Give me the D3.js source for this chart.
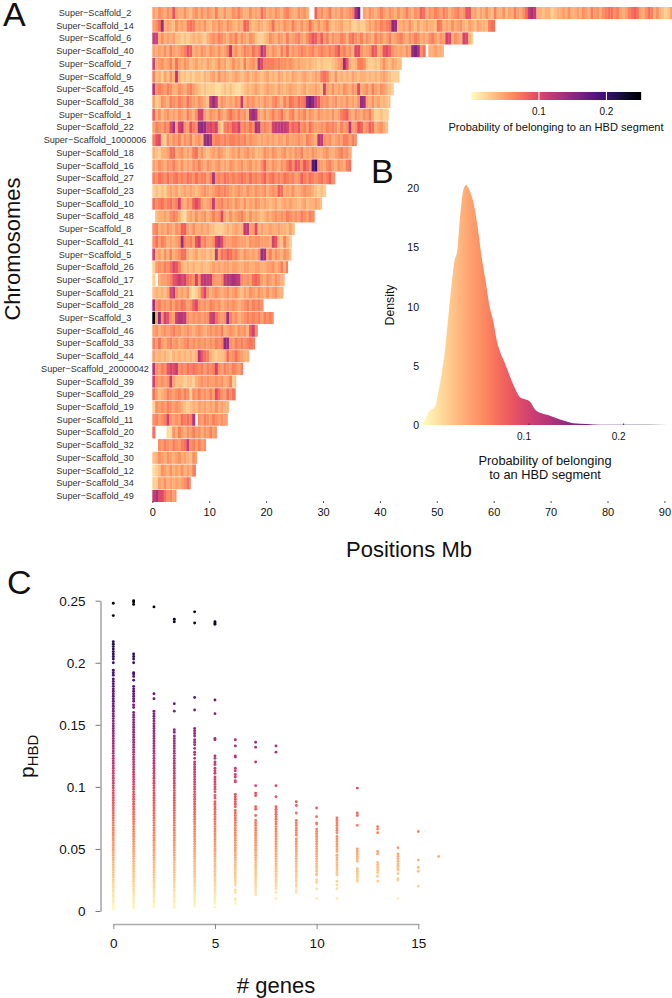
<!DOCTYPE html>
<html lang="en">

<head>
  <meta charset="UTF-8">
  <title>HBD probability along the genome</title>
  <script src="https://d3js.org/d3.v7.min.js"></script>
  <style>
    body {
      margin: 0;
      background: #fff;
      font-family: "Liberation Sans", Arial, sans-serif;
    }

    svg {
      display: block;
    }

    text {
      fill: #111;
    }
  </style>
</head>

<body>
  <svg id="chart" width="672" height="998"></svg>

  <script>
    // Panel A: scaffold names and lengths in Mb
    const scaffolds = ["2", "14", "6", "40", "7", "9", "45", "38", "1", "22", "1000006", "18", "16", "27", "23", "10", "48",
      "8", "41", "5", "26", "17", "21", "28", "3", "46", "33", "44", "20000042", "39", "29", "19", "11", "20", "32", "30",
      "12", "34", "49"];
    const scaffoldLengths = [91.5, 60.2, 56.3, 51.2, 43.8, 43.4, 42.4, 41.8, 41.5, 41.4, 35.9, 35, 34.9, 32.1, 30.6, 29.8, 28.5,
      25, 24.5, 24.4, 23.8, 23.2, 23, 19.5, 21.3, 18.5, 18, 17.2, 15.9, 14.7, 14.6, 13.4, 13.2, 11.3, 9.4, 7.8, 7.6, 6.7, 4.2];

    // pHBD read along each scaffold, in 1/120ths, one value per 0.5 Mb, null = no data
    const s2 = [6,5,7,6,5,7,6,11,6,5,5,7,5,4,6,7,5,7,5,7,6,5,8,5,5,7,5,5,7,6,8,6,5,5,7,5,6,5,9,7,5,6,5,7,6,5,7,8,6,5,5,7,6,7,5,null,null,10,6,7,5,6,8,5,6,5,7,5,6,7,8,16,20,null,6,5,7,6,5,6,8,6,5,7,6,5,7,5,6,8,6,5,7,6,10,9,5,7,6,8,7,6,8,7,5,6,7,8,6,7,11,11,5,6,4,6,5,7,5,4,8,5,5,7,4,6,5,8,6,5,7,9,14,16,14,5,5,4,5,5,3,4,5,5,6,5,7,5,5,6,5,7,6,5,8,6,7,5,7,8,9,9,7,8,6,5,6,8,9,10,9,6,5,7,9,8,5,7,5,4,3,4,6];
    const s14 = [6,7,9,17,5,6,5,4,7,5,6,5,8,9,8,5,6,5,7,5,4,6,5,7,6,5,7,6,5,4,6,5,10,9,5,4,5,6,5,4,5,6,9,5,6,5,7,6,5,8,6,5,7,5,6,9,6,5,7,5,6,8,5,4,5,5,6,4,4,5,3,3,4,3,3,5,6,5,7,6,8,7,8,9,18,17,5,5,6,5,7,5,4,6,4,5,6,5,5,4,9,8,5,6,5,7,5,6,7,5,4,6,5,4,6,5,5,4,8,9,9];
    const s6 = [14,13,5,7,5,6,5,6,4,4,3,4,3,4,5,4,5,4,3,5,6,7,6,8,7,6,5,7,6,8,5,7,6,5,7,6,4,3,3,4,5,7,6,5,7,6,5,8,5,6,7,8,6,5,7,9,11,10,7,10,6,8,5,7,6,6,8,7,5,8,9,7,6,8,5,7,6,5,8,6,7,5,6,8,5,6,7,8,6,5,7,6,8,7,5,6,5,7,8,6,5,7,6,13,12,5,7,6,5,13,12,5,3];
    const s40 = [6,5,6,5,7,5,8,6,5,6,7,8,11,10,5,6,5,7,6,5,7,6,5,7,5,6,8,15,6,7,5,6,8,7,6,9,7,8,15,12,6,5,7,6,5,8,6,9,5,7,6,7,8,7,6,7,8,6,7,8,7,6,8,7,9,11,7,8,6,7,5,12,12,7,5,6,7,11,10,5,6,11,12,10,7,6,5,6,5,7,6,17,19,16,7,9,null,5,5,6,5,5,5];
    const s7 = [13,5,6,7,5,6,8,5,9,6,5,7,6,4,5,6,4,5,4,6,5,4,5,7,5,6,4,5,7,5,6,4,8,5,6,7,5,15,12,8,8,8,8,7,8,7,7,6,7,6,5,6,5,5,4,5,4,4,3,4,3,3,3,4,5,6,7,17,11,5,4,5,8,8,7,4,3,3,4,3,5,7,5,4,6,5,4,4];
    const s9 = [8,4,5,3,6,4,7,5,15,5,3,4,3,4,3,4,4,3,5,4,5,6,4,7,5,6,5,4,5,6,5,4,5,6,4,5,6,5,4,5,6,4,5,4,6,5,4,5,4,6,5,4,5,6,5,4,5,6,5,8,9,8,5,4,7,4,5,4,5,4,6,5,4,5,5,4,5,4,5,4,5,6,5,4,3,3,3];
    const s45 = [15,7,8,7,6,8,7,5,5,7,6,5,7,8,6,5,4,3,4,3,3,3,2,2,3,4,3,4,3,2,2,3,4,5,4,5,6,5,4,5,6,5,5,4,6,5,4,5,6,5,5,4,5,6,4,5,5,6,5,4,13,6,5,7,5,6,5,7,6,5,7,6,12,5,6,7,5,8,6,5,7,6,5,4,3];
    const s38 = [6,3,4,7,6,5,8,7,6,8,7,6,9,7,6,5,7,6,5,4,14,17,14,5,7,6,5,6,5,7,6,14,5,7,6,7,5,6,5,7,6,5,7,8,6,5,8,6,9,8,7,9,8,9,18,20,18,13,11,7,6,7,5,6,7,5,6,5,7,5,6,5,7,17,16,6,5,7,5,6,4,5,4,4];
    const s1 = [10,5,7,4,6,7,5,6,5,7,6,5,8,6,5,7,13,13,6,5,7,6,5,8,6,5,7,9,7,6,8,6,7,5,15,17,15,6,5,7,5,6,8,6,7,9,6,5,7,8,5,7,6,8,5,7,6,5,7,6,5,6,5,7,5,6,8,9,10,6,5,7,6,5,7,6,8,5,3,3,4,3,3];
    const s22 = [6,8,7,6,8,7,12,16,6,13,15,7,6,11,8,7,17,18,17,12,13,11,13,5,3,8,9,8,11,10,13,7,8,7,9,7,16,15,7,8,7,6,13,14,14,15,14,13,8,10,9,11,7,8,6,9,7,6,6,7,6,8,7,8,7,5,8,6,7,15,6,7,11,10,6,7,10,9,5,6,7,5,4,3];
    const s1000006 = [8,11,12,4,3,7,5,7,6,8,5,7,6,8,5,6,7,5,17,18,16,7,8,8,7,8,7,8,8,7,8,7,8,6,7,6,6,5,6,5,6,5,6,5,6,6,5,7,5,6,6,7,6,5,8,7,6,5,15,14,7,6,7,5,6,7,6,8,8,6,8,7];
    const s18 = [5,4,3,5,5,6,9,9,5,6,7,5,6,5,8,9,5,7,5,4,5,6,5,7,6,5,4,5,6,5,7,5,6,7,5,6,4,5,5,7,6,5,7,6,5,6,7,5,6,5,7,6,8,5,6,5,7,6,5,5,6,7,5,5,6,7,8,6,7,5];
    const s16 = [6,5,7,6,5,7,6,8,6,5,7,5,6,5,7,6,8,6,5,7,6,5,6,7,5,6,5,7,6,5,6,7,5,6,7,5,6,5,7,10,6,5,7,6,5,7,6,8,10,7,11,10,7,11,9,7,22,24,7,6,5,7,8,6,5,7,6,5,8,9];
    const s27 = [8,7,9,8,7,9,7,8,9,7,8,7,9,8,7,9,7,8,8,6,8,16,7,8,7,9,8,7,8,7,8,9,8,7,9,7,8,7,8,10,7,8,9,7,8,7,9,8,7,8,6,7,10,8,7,9,8,7,8,9,7,8,10,7,8];
    const s23 = [3,4,3,4,3,5,6,5,6,4,5,6,5,6,5,4,5,6,7,6,5,6,7,8,7,8,7,6,5,6,7,6,5,7,6,5,7,6,6,7,5,6,7,6,10,9,5,6,5,7,5,5,6,7,6,6,5,4,3,4,3];
    const s10 = [9,7,8,9,7,8,9,7,8,13,6,5,7,6,10,12,10,6,5,6,7,14,6,7,8,6,7,6,5,7,6,5,7,5,6,5,7,6,5,6,5,4,5,6,4,5,6,5,6,5,5,4,5,6,4,5,5,6,5,4];
    const s48 = [null,4,5,5,6,5,7,8,7,5,3,2,5,6,5,7,5,6,7,5,6,8,6,7,12,6,5,7,5,6,7,8,6,5,7,5,6,5,4,5,6,5,6,7,6,7,6,8,7,6,7,6,8,7,6,8,7];
    const s8 = [7,8,5,6,5,7,6,5,7,6,10,10,6,5,7,5,5,6,5,6,4,4,3,3,3,4,5,4,5,6,5,5,14,14,6,6,12,5,6,5,5,6,5,5,6,5,5,4,6,4];
    const s41 = [7,9,6,8,7,5,6,5,6,7,17,8,7,8,6,11,13,7,8,6,6,7,13,15,12,7,6,6,7,7,6,6,6,5,7,6,7,7,6,6,6,5,13,11,5,4,8,5,3];
    const s5 = [13,5,6,4,7,5,8,5,6,7,9,9,5,4,5,6,4,5,5,4,5,4,15,6,9,8,10,9,7,8,6,5,7,6,5,6,5,7,17,16,6,8,5,7,6,5,7,6,4];
    const s26 = [3,6,7,6,8,7,9,12,11,8,5,4,5,4,5,4,4,5,4,4,5,6,5,6,5,6,6,5,6,6,5,5,6,6,5,5,6,6,5,5,6,6,7,5,6,8,5,8];
    const s17 = [3,null,5,6,6,7,8,11,12,14,12,13,9,8,7,13,7,14,15,14,14,7,6,6,7,14,15,15,16,15,14,7,6,7,6,9,10,9,6,5,7,6,5,7,6,5,5];
    const s21 = [4,5,4,5,4,6,12,14,7,5,6,5,7,3,2,3,5,9,13,7,5,6,7,6,5,6,7,5,6,7,5,4,6,5,7,6,5,7,6,5,7,5,6,7,5,5];
    const s28 = [16,7,8,6,7,6,8,6,8,7,9,8,6,7,10,12,7,6,7,6,8,7,6,7,5,6,7,6,7,6,5,6,7,8,6,8,7,8,7];
    const s3 = [30,6,18,7,13,11,7,6,13,15,15,14,7,6,7,6,7,6,7,7,13,14,9,7,6,7,17,8,6,7,5,6,7,8,7,8,7,8,6,8,7,8,7];
    const s46 = [6,7,5,6,7,6,7,8,6,7,5,6,7,6,5,6,7,6,5,6,7,6,7,6,8,5,6,7,6,5,7,6,7,5,10,13,7];
    const s33 = [8,6,9,6,5,7,8,6,7,5,6,7,8,6,7,6,7,6,7,6,7,6,8,7,8,18,17,7,6,8,7,8,7,8,9,8];
    const s44 = [6,4,5,4,5,4,3,5,4,5,4,5,4,5,4,5,15,11,9,8,5,4,3,4,4,5,9,6,7,9,7,6,5,5];
    const s20000042 = [15,7,6,8,7,11,13,12,14,7,8,7,9,8,9,8,7,8,6,8,7,8,13,7,6,8,7,6,8,7,6,8];
    const s39 = [13,7,6,7,6,7,14,6,4,4,4,3,4,4,3,5,6,7,6,7,6,6,7,6,7,5,6,8,3,4];
    const s29 = [9,6,4,5,6,8,7,6,7,8,6,8,7,3,7,6,8,6,7,6,8,6,12,9,7,6,9,7,9,8];
    const s19 = [3,7,6,7,6,8,7,6,7,6,5,4,3,4,5,4,6,5,6,5,6,5,7,5,6,5,5];
    const s11 = [7,8,6,7,8,13,7,6,7,6,9,8,9,8,15,null,7,6,8,7,6,8,7,6,7,6,7];
    const s20 = [9,null,null,null,null,2,2,7,5,8,6,5,7,6,8,6,7,5,7,6,8,6,7];
    const s32 = [null,null,7,6,8,7,6,8,7,6,8,9,14,7,8,6,8,6,7];
    const s30 = [4,5,7,6,5,7,6,5,6,7,5,6,5,4,7,6];
    const s12 = [2,3,4,7,6,5,7,5,6,5,7,5,6,5,8,9];
    const s34 = [3,3,6,5,7,5,6,5,6,5,6,7,9,8];
    const s49 = [14,16,12,12,9,7,8,6,7];
    const scaffoldValues = [s2, s14, s6, s40, s7, s9, s45, s38, s1, s22, s1000006, s18, s16, s27, s23, s10, s48, s8, s41, s5,
      s26, s17, s21, s28, s3, s46, s33, s44, s20000042, s39, s29, s19, s11, s20, s32, s30, s12, s34, s49];
    const positionTicks = [0, 10, 20, 30, 40, 50, 60, 70, 80, 90];
    const legendTicks = [0.1, 0.2];

    // Panel B: density curve
    const densityP = [-0.0128, -0.0093, -0.0058, -0.0022, 0.0013, 0.0048, 0.0083, 0.0118, 0.0153, 0.0189, 0.0217, 0.0249, 0.0277,
      0.0312, 0.034, 0.0375, 0.0424, 0.046, 0.0505, 0.0551, 0.0593, 0.0629, 0.0664, 0.0699, 0.0752, 0.0805, 0.0857, 0.091, 0.0963,
      0.1016, 0.1069, 0.1139, 0.1227, 0.1297, 0.1368, 0.1473, 0.1614, 0.1755, 0.2037, 0.2477];
    const densityY = [0, 0.42, 1.13, 1.32, 1.55, 2.82, 4.37, 6.34, 9.15, 11.97, 13.8, 14.8, 17.6, 19.86, 20.28, 19.86, 18.59, 16.9,
      14.2, 11.97, 9.86, 8.73, 7.18, 6.2, 5.2, 4.08, 3.1, 2.34, 2.17, 1.97, 1.32, 0.99, 0.79, 0.56, 0.37, 0.14, 0.08, 0.03, 0.03, 0];
    const densityTicks = [0, 5, 10, 15, 20];

    // Panel C: pHBD x 1000 per number of genes
    const g0 = [248,238,217,215,213,211,209,207,205,203,200,194,192,190,187,185,183,181,179,177,175,173,171,169,167,165,163,161,159,157,155,153,151,149,147,145,143,141,139,137,135,133,131,129,127,125,123,121,119,117,115,113,111,109,107,105,103,101,99,97,95,93,91,89,87,85,83,81,79,77,75,73,71,69,67,65,63,61,59,57,55,53,51,49,47,45,43,41,39,37,35,33,31,29,27,25,23,21,19,17,15,13,11,9,7,5,3,1];
    const g1 = [250,249,247,207,205,203,200,192,191,189,186,181,179,177,175,173,171,169,166,164,160,158,156,154,152,150,148,146,144,142,140,138,136,134,132,130,128,126,124,122,120,118,116,114,112,110,108,106,104,102,100,98,96,94,92,90,88,86,84,82,80,78,76,74,72,70,68,66,64,62,60,58,56,54,52,50,48,46,44,42,40,38,36,34,32,30,28,26,24,22,20,18,16,14,12,10,8,6,4,2];
    const g2 = [245,175,171,161,159,157,155,153,151,149,147,145,143,141,139,137,135,133,131,129,127,125,123,121,119,117,115,113,111,109,107,105,103,101,99,97,95,93,91,89,87,85,83,81,79,77,75,73,71,69,67,65,63,61,59,57,55,53,51,49,47,45,43,41,39,37,35,33,31,29,27,25,23,21,19,17,15,13,11,9,7,5,3];
    const g3 = [235,233,167,161,146,144,141,139,137,135,133,131,129,127,125,123,121,119,117,115,113,111,109,107,105,103,101,99,97,95,93,91,89,87,85,83,81,79,77,75,73,71,69,67,65,63,61,59,57,55,53,51,49,47,45,43,41,39,37,35,33,31,29,27,25,23,21,19,17,15,13,11,9,7,5,3];
    const g4 = [241,232,172,162,147,145,143,141,138,136,134,131,128,126,123,120,118,116,114,112,110,108,106,104,102,100,98,96,94,92,90,88,86,84,82,80,78,76,74,72,70,68,66,64,62,60,58,56,54,52,50,48,46,44,42,40,38,36,34,32,30,28,26,24,22,20,18,16,14,12,10,8,6,4];
    const g5 = [233,232,231,170,159,139,138,125,123,120,118,115,113,111,108,106,104,102,100,98,96,93,91,88,86,84,82,80,78,76,74,72,70,68,66,64,62,60,58,56,54,52,50,48,46,44,42,40,38,36,34,32,30,28,26,24,22,20,18,16,14,12,10,8,6,3];
    const g6 = [138,133,125,124,115,113,110,108,105,104,94,92,90,88,86,84,81,79,77,75,73,71,69,67,65,63,61,59,57,55,53,51,49,47,45,43,41,39,37,35,33,31,29,27,25,23,21,17,15,10,9,6];
    const g7 = [136,132,120,101,95,93,84,82,77,73,71,69,67,65,63,61,59,57,55,53,51,49,47,45,43,41,39,37,35,33,31,29,27,25,23,21,19,17,15,13];
    const g8 = [133,128,101,92,84,82,80,78,76,74,72,70,68,66,64,62,60,58,56,54,52,50,48,46,44,42,40,38,36,34,32,30,28,26,24,22,20,18,15,10];
    const g9 = [88,85,79,73,71,69,67,65,63,61,58,56,54,52,50,48,46,44,42,40,38,36,34,32,30,28,26,24,22,20,17,15];
    const g10 = [83,76,71,70,66,64,62,60,58,56,54,52,50,48,46,44,42,40,38,36,34,32,30,29,25,23,18,10];
    const g11 = [75,73,71,69,67,65,63,60,58,56,54,52,50,48,45,43,41,39,37,35,33,31,29,24,21,18,10];
    const g12 = [99,79,77,69,50,48,46,44,42,40,34,32,30,28,26,24];
    const g13 = [68,66,63,48,46,39,37,35,33,31,28,24];
    const g14 = [51,46,44,42,40,38,36,34,33,30,26,25,10];
    const g15 = [64,41,35,32,20];
    const g16 = [44];
    const geneValues = [g0, g1, g2, g3, g4, g5, g6, g7, g8, g9, g10, g11, g12, g13, g14, g15, g16];
    const geneTicks = [0, 5, 10, 15];
    const phbdTicks = [0, 0.05, 0.1, 0.15, 0.2, 0.25];

    const color = d3.scaleSequential(t => d3.interpolateMagma(1 - t)).domain([0, 0.25]);
    const svg = d3.select("#chart");
    const defs = svg.append("defs");

    // runs the full colour scale between two pixel positions
    function addGradient(id, x1, x2) {
      const gradient = defs.append("linearGradient").attr("id", id)
        .attr("gradientUnits", "userSpaceOnUse")
        .attr("x1", x1).attr("x2", x2).attr("y1", 0).attr("y2", 0);
      d3.range(0, 1.001, 0.05).forEach(f => {
        gradient.append("stop").attr("offset", f).attr("stop-color", color(f * 0.25));
      });
    }

    function panelLetter(label, x, y) {
      svg.append("text").attr("x", x).attr("y", y).attr("font-size", 34).text(label);
    }

    function styleAxis(g, fontSize, stroke) {
      g.selectAll("text").attr("font-size", fontSize).attr("font-family", "'Liberation Sans', Arial, sans-serif").style("fill", "#111");
      g.selectAll("line").attr("stroke", stroke);
      g.select(".domain").attr("stroke", stroke);
    }

    // Panel A
    const xPos = d3.scaleLinear().domain([0, 90]).range([152.3, 664.4]);
    const yRow = d3.scaleBand().domain(scaffolds).range([7, 502]).paddingInner(0.05);

    scaffolds.forEach((name, i) => {
      const row = svg.append("g");
      row.selectAll("rect")
        .data(scaffoldValues[i].map((v, j) => ({ v, start: j * 0.5 })).filter(d => d.v !== null))
        .enter().append("rect")
        .attr("x", d => xPos(d.start))
        .attr("y", yRow(name))
        .attr("width", d => xPos(Math.min(d.start + 0.5, scaffoldLengths[i])) - xPos(d.start) + 0.3)
        .attr("height", yRow.bandwidth())
        .attr("fill", d => color(d.v / 120));
      svg.append("text").attr("x", 95).attr("y", yRow(name) + yRow.bandwidth() / 2 + 3)
        .attr("text-anchor", "middle").attr("font-size", 9.1).style("fill", "#333")
        .text("Super\u2212Scaffold_" + name);
    });

    const axisA = svg.append("g").attr("transform", "translate(0,501)")
      .call(d3.axisBottom(xPos).tickValues(positionTicks).tickSize(2).tickPadding(5).tickFormat(d3.format("d")));
    axisA.select(".domain").remove();
    styleAxis(axisA, 11, "#555");

    svg.append("text").attr("x", 409).attr("y", 557).attr("text-anchor", "middle").attr("font-size", 22).text("Positions Mb");
    svg.append("text").attr("transform", "translate(20,249) rotate(-90)").attr("text-anchor", "middle").attr("font-size", 22).text("Chromosomes");
    panelLetter("A", 3, 26);

    // legend
    const xLegend = d3.scaleLinear().domain([0, 0.252]).range([471, 641]);
    addGradient("legend-gradient", xLegend(0), xLegend(0.25));
    svg.append("rect").attr("x", xLegend(0)).attr("y", 92).attr("width", xLegend(0.25) - xLegend(0) + 1.5).attr("height", 8)
      .attr("fill", "url(#legend-gradient)");
    const axisLegend = svg.append("g").attr("transform", "translate(0,100)")
      .call(d3.axisBottom(xLegend).tickValues(legendTicks).tickSize(-8).tickPadding(8).tickFormat(d3.format(".1f")));
    axisLegend.select(".domain").remove();
    styleAxis(axisLegend, 10, "#fff");
    svg.append("text").attr("x", 556).attr("y", 131).attr("text-anchor", "middle").attr("font-size", 11.1)
      .text("Probability of belonging to an HBD segment");

    // Panel B
    const xProb = d3.scaleLinear().domain([-0.0125, 0.25]).range([422, 670.5]);
    const yDensity = d3.scaleLinear().domain([0, 20]).range([425, 188.3]);
    addGradient("density-gradient", 422, 670.5);

    const densityPoints = densityP.map((p, i) => [p, densityY[i]]);
    svg.append("path").datum(densityPoints)
      .attr("fill", "url(#density-gradient)")
      .attr("d", d3.area().x(d => xProb(d[0])).y0(yDensity(0)).y1(d => yDensity(d[1])).curve(d3.curveMonotoneX));

    const axisDensityX = svg.append("g").attr("transform", "translate(0,425)")
      .call(d3.axisBottom(xProb).tickValues(legendTicks).tickSize(-1.5).tickPadding(8).tickFormat(d3.format(".1f")));
    axisDensityX.select(".domain").remove();
    styleAxis(axisDensityX, 10, "#333");
    axisDensityX.selectAll("text").attr("dx", -5);

    const axisDensityY = svg.append("g").attr("transform", "translate(422,0)")
      .call(d3.axisLeft(yDensity).tickValues(densityTicks).tickSize(0).tickPadding(3));
    axisDensityY.select(".domain").remove();
    styleAxis(axisDensityY, 10.5, "#333");

    svg.append("text").attr("transform", "translate(394,305) rotate(-90)").attr("text-anchor", "middle").attr("font-size", 12.3).text("Density");
    svg.append("text").attr("x", 545).attr("y", 465).attr("text-anchor", "middle").attr("font-size", 12.8).text("Probability of belonging");
    svg.append("text").attr("x", 545).attr("y", 479).attr("text-anchor", "middle").attr("font-size", 12.8).text("to an HBD segment");
    panelLetter("B", 371, 183);

    // Panel C
    const xGenes = d3.scaleLinear().domain([0, 15]).range([113.3, 418.3]);
    const yPhbd = d3.scaleLinear().domain([0, 0.25]).range([911, 600.7]);

    const points = geneValues.flatMap((values, genes) => values.map(v => ({ genes, p: v / 1000 })));
    svg.append("g").selectAll("circle")
      .data(points)
      .enter().append("circle")
      .attr("cx", d => xGenes(d.genes))
      .attr("cy", d => yPhbd(d.p))
      .attr("r", 1.45)
      .attr("fill", d => color(d.p));

    const axisPhbd = svg.append("g").attr("transform", "translate(100.5,0)")
      .call(d3.axisLeft(yPhbd).tickValues(phbdTicks).tickSizeInner(5).tickSizeOuter(0).tickPadding(10).tickFormat(d3.format("~g")));
    styleAxis(axisPhbd, 13.5, "#777");

    const axisGenes = svg.append("g").attr("transform", "translate(0,924)")
      .call(d3.axisBottom(xGenes).tickValues(geneTicks).tickSizeInner(5).tickSizeOuter(0).tickPadding(9).tickFormat(d3.format("d")));
    styleAxis(axisGenes, 13.5, "#888");
    axisGenes.select(".domain").attr("stroke", "#aaa").attr("stroke-width", 1.5);

    const yLabel = svg.append("text").attr("transform", "translate(34,778) rotate(-90)").attr("font-size", 21);
    yLabel.append("tspan").text("p");
    yLabel.append("tspan").attr("font-size", 15).attr("dy", 4).text("HBD");
    svg.append("text").attr("x", 276).attr("y", 993).attr("text-anchor", "middle").attr("font-size", 22).text("# genes");
    panelLetter("C", 7, 594);
  </script>
</body>

</html>
